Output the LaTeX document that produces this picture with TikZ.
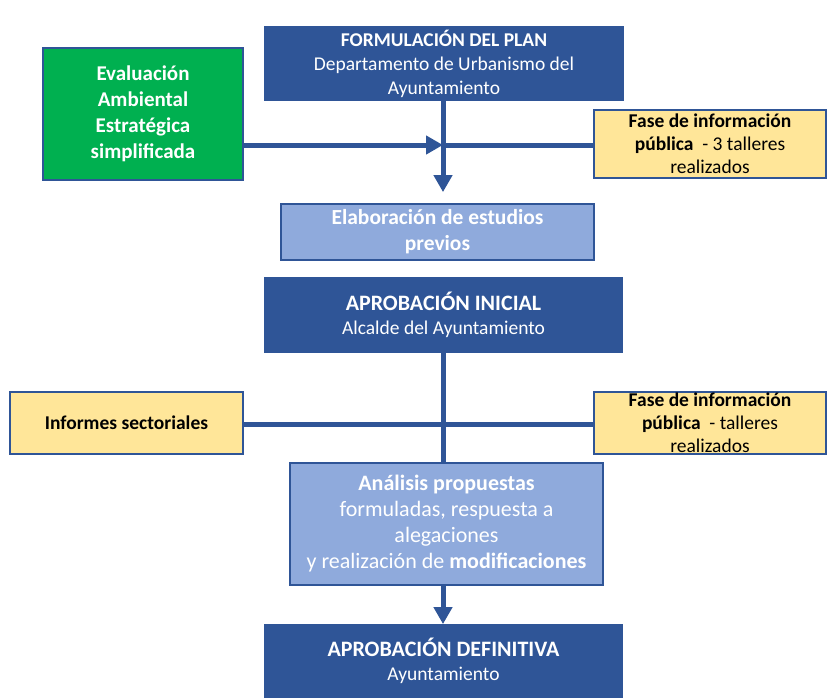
\documentclass[tikz,border=0pt]{standalone}
\usepackage{fontspec}
\setmainfont{Carlito}
\usetikzlibrary{arrows.meta}
\definecolor{darkblue}{HTML}{2F5597}
\definecolor{lightblue}{HTML}{8FAADC}
\definecolor{eaegreen}{HTML}{00B050}
\definecolor{infoyellow}{HTML}{FFE699}

\begin{document}
\begin{tikzpicture}[x=1pt,y=-1pt,
  box/.style={draw=darkblue, line width=1.8pt, align=center, inner sep=0pt,
    font=\fontsize{19.5}{24}\selectfont},
  mainbox/.style={box, fill=darkblue, text=white, minimum width=358pt},
  stepbox/.style={box, fill=lightblue, text=white, minimum width=313pt,
    font=\fontsize{22}{26}\selectfont},
  infobox/.style={box, fill=infoyellow, text=black, minimum width=232pt,
    font=\fontsize{19.5}{23}\selectfont},
  conn/.style={draw=darkblue, line width=5pt},
  tip/.style={-{Triangle[width=18pt,length=17pt]}}]
\useasboundingbox (0,0) rectangle (827,697);

\node[mainbox, minimum height=73pt] (plan) at (444,63.5)
{\textbf{FORMULACIÓN DEL PLAN}\\Departamento de Urbanismo del\\Ayuntamiento};

\node[box, fill=eaegreen, text=white, minimum width=200pt, minimum height=132pt,
  font=\fontsize{21}{26}\selectfont\bfseries] (eae) at (143,114)
{Evaluación\\Ambiental\\Estratégica\\simplificada};

\node[infobox, minimum height=68pt] (info1) at (710,144)
{\textbf{Fase de información}\\\textbf{pública}~~- 3 talleres\\realizados};

\node[stepbox, minimum height=56pt, font=\fontsize{21.5}{26}\selectfont\bfseries] (estudios) at (437.5,232)
{Elaboración de estudios\\previos};

\node[mainbox, minimum height=74pt] (inicial) at (443.5,315)
{{\fontsize{22}{26}\selectfont\textbf{APROBACIÓN INICIAL}}\\Alcalde del Ayuntamiento};

\node[infobox, minimum height=62pt, minimum width=233pt] (informes) at (126.5,423)
{\textbf{Informes sectoriales}};

\node[infobox, minimum height=62pt] (info2) at (710,423)
{\textbf{Fase de información}\\\textbf{pública}~~- talleres\\realizados};

\node[stepbox, minimum height=122pt] (analisis) at (446.5,524)
{\textbf{Análisis propuestas}\\formuladas, respuesta a\\alegaciones\\y realización de \textbf{modificaciones}};

\node[mainbox, minimum height=72pt] (definitiva) at (443.5,661)
{{\fontsize{22}{26}\selectfont\textbf{APROBACIÓN DEFINITIVA}}\\Ayuntamiento};

\coordinate (j1) at (443,145);
\coordinate (j2) at (443,424);

% first phase
\draw[conn, tip, shorten >=11pt] (plan.south -| j1) -- (estudios.north -| j1);
\draw[conn, tip] (eae.east |- j1) -- (j1);
\draw[conn] (info1.west |- j1) -- (j1);

% second phase
\draw[conn] (inicial.south -| j2) -- (analisis.north -| j2);
\draw[conn] (informes.east |- j2) -- (info2.west |- j2);
\draw[conn, tip] (analisis.south -| j2) -- (definitiva.north -| j2);
\end{tikzpicture}
\end{document}
